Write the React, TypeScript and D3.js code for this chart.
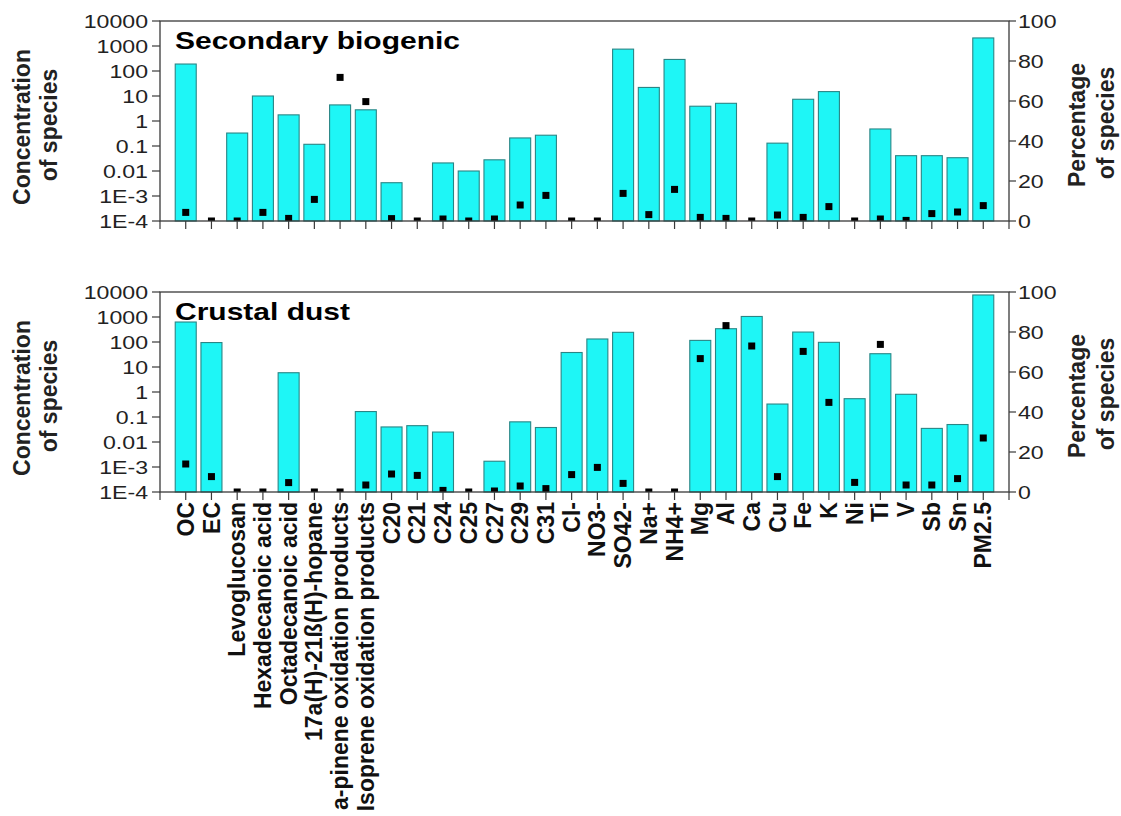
import React from "react";
import * as d3 from "d3";

const categories = [
  "OC", "EC", "Levoglucosan", "Hexadecanoic acid", "Octadecanoic acid",
  "17a(H)-21ß(H)-hopane", "a-pinene oxidation products", "Isoprene oxidation products",
  "C20", "C21", "C24", "C25", "C27", "C29", "C31", "Cl-", "NO3-", "SO42-", "Na+", "NH4+",
  "Mg", "Al", "Ca", "Cu", "Fe", "K", "Ni", "Ti", "V", "Sb", "Sn", "PM2.5",
];

// Secondary biogenic: concentration (bars, log axis) and percentage (points, right axis)
const biogenicConc: (number | null)[] = [
  190, null, 0.33, 10, 1.76, 0.117, 4.4, 2.8, 0.0034, null, 0.021, 0.01, 0.028, 0.21, 0.27,
  null, null, 750, 22, 290, 3.9, 5.1, null, 0.13, 7.4, 15, null, 0.48, 0.041, 0.041, 0.034, 2100,
];
const biogenicPct = [
  4.3, 0, 0, 4.3, 1.3, 10.8, 71.8, 59.7, 1.2, 0, 1, 0, 1, 8, 12.8,
  0, 0, 13.8, 3.2, 15.8, 1.8, 1.3, 0, 3, 1.8, 7.2, 0, 1, 0.3, 3.7, 4.5, 7.7,
];

// Crustal dust
const crustalConc: (number | null)[] = [
  630, 95, null, null, 5.9, null, null, 0.165, 0.04, 0.045, 0.025, null, 0.0017, 0.064, 0.038,
  38, 132, 244, null, null, 116, 340, 1050, 0.33, 250, 97, 0.54, 34, 0.81, 0.035, 0.05, 7600,
];
const crustalPct = [
  14, 7.7, 0, 0, 4.7, 0, 0, 3.5, 9, 8.3, 0.8, 0, 0.5, 3, 1.7,
  8.7, 12.3, 4.3, 0, 0, 66.7, 83.2, 73, 7.7, 70.3, 44.8, 4.8, 73.8, 3.5, 3.5, 6.7, 27,
];

const logTickValues = [1e4, 1e3, 100, 10, 1, 0.1, 0.01, 1e-3, 1e-4];
const logTickLabels = ["10000", "1000", "100", "10", "1", "0.1", "0.01", "1E-3", "1E-4"];
const pctTickValues = [0, 20, 40, 60, 80, 100];

const W = 1121;
const H = 816;
const LEFT = 160;
const RIGHT = 1009;
const PANEL_H = 200;
const FONT = "Arial, 'Liberation Sans', Helvetica, sans-serif";
const BAR_FILL = "#1ef6f6";
const BAR_STROKE = "#2a8585";
const AXIS = "#3a3a3a";
const SX = 1.25;

const x = d3.scalePoint<string>().domain(categories).range([LEFT, RIGHT]).padding(1);

function Panel({ id, top, title, conc, pct, labels }: {
  id: string; top: number; title: string; conc: (number | null)[]; pct: number[]; labels: boolean;
}) {
  const bottom = top + PANEL_H;
  const yLog = d3.scaleLog().domain([1e-4, 1e4]).range([bottom, top]);
  const yPct = d3.scaleLinear().domain([0, 100]).range([bottom, top]);
  const bw = 21;
  const mid = top + PANEL_H / 2 + 6;
  return (
    <g>
      <defs>
        <clipPath id={id}>
          <rect x={LEFT} y={top} width={RIGHT - LEFT} height={PANEL_H} />
        </clipPath>
      </defs>
      {/* bars */}
      {categories.map((c, i) => {
        const v = conc[i];
        if (v == null) return null;
        const yv = yLog(v);
        return (
          <rect key={"b" + i} x={(x(c) as number) - bw / 2} y={yv} width={bw} height={bottom - yv}
            fill={BAR_FILL} stroke={BAR_STROKE} strokeWidth={1.1} />
        );
      })}
      {/* points */}
      <g clipPath={`url(#${id})`}>
        {categories.map((c, i) => (
          <rect key={"p" + i} x={(x(c) as number) - 3.5} y={yPct(pct[i]) - 3.5} width={7} height={7} fill="#000" />
        ))}
      </g>
      {/* frame */}
      <rect x={LEFT} y={top} width={RIGHT - LEFT} height={PANEL_H} fill="none" stroke={AXIS} strokeWidth={1.3} />
      {/* axis end extensions */}
      <line x1={LEFT} x2={LEFT} y1={bottom} y2={bottom + 8} stroke={AXIS} strokeWidth={1.2} />
      <line x1={RIGHT} x2={RIGHT} y1={bottom} y2={bottom + 8} stroke={AXIS} strokeWidth={1.2} />
      {/* x ticks */}
      {categories.map((c, i) => (
        <line key={"t" + i} x1={x(c) as number} x2={x(c) as number} y1={bottom} y2={bottom + 8} stroke={AXIS} strokeWidth={1.2} />
      ))}
      {/* left ticks */}
      {logTickValues.map((v, i) => (
        <g key={"l" + i}>
          <line x1={LEFT - 8} x2={LEFT} y1={yLog(v)} y2={yLog(v)} stroke={AXIS} strokeWidth={1.2} />
          <text transform={`translate(${LEFT - 12},${yLog(v)}) scale(${SX},1)`} textAnchor="end" dy="0.36em"
            fontFamily={FONT} fontSize={18.5} fill="#222">{logTickLabels[i]}</text>
        </g>
      ))}
      {/* right ticks */}
      {pctTickValues.map((v, i) => (
        <g key={"r" + i}>
          <line x1={RIGHT} x2={RIGHT + 7} y1={yPct(v)} y2={yPct(v)} stroke={AXIS} strokeWidth={1.2} />
          <text transform={`translate(${RIGHT + 9},${yPct(v)}) scale(${SX},1)`} textAnchor="start" dy="0.36em"
            fontFamily={FONT} fontSize={18.5} fill="#222">{String(v)}</text>
        </g>
      ))}
      {/* title */}
      <text transform={`translate(175,${top + 28}) scale(${SX},1)`} fontFamily={FONT} fontWeight="bold" fontSize={24} fill="#000">{title}</text>
      {/* axis titles */}
      <text transform={`translate(30,${mid}) rotate(-90)`} textAnchor="middle" fontFamily={FONT} fontWeight="bold" fontSize={23} fill="#222">Concentration</text>
      <text transform={`translate(57,${mid - 2}) rotate(-90)`} textAnchor="middle" fontFamily={FONT} fontWeight="bold" fontSize={23} fill="#222">of species</text>
      <text transform={`translate(1085,${mid - 2}) rotate(-90)`} textAnchor="middle" fontFamily={FONT} fontWeight="bold" fontSize={23} fill="#222">Percentage</text>
      <text transform={`translate(1114,${mid - 4}) rotate(-90)`} textAnchor="middle" fontFamily={FONT} fontWeight="bold" fontSize={23} fill="#222">of species</text>
      {/* x labels */}
      {labels && categories.map((c, i) => (
        <text key={"x" + i} transform={`translate(${x(c)},${bottom + 10}) rotate(-90)`} textAnchor="end" dy="0.35em"
          fontFamily={FONT} fontWeight="bold" fontSize={23} fill="#111">{c}</text>
      ))}
    </g>
  );
}

export default function App() {
  return (
    <svg width={W} height={H} viewBox={`0 0 ${W} ${H}`}
      style={{ position: "absolute", left: 0, top: 0, display: "block", background: "#fff" }}>
      <rect x={0} y={0} width={W} height={H} fill="#fff" />
      <Panel id="clip-top" top={21} title="Secondary biogenic" conc={biogenicConc} pct={biogenicPct} labels={false} />
      <Panel id="clip-bottom" top={292} title="Crustal dust" conc={crustalConc} pct={crustalPct} labels={true} />
    </svg>
  );
}
